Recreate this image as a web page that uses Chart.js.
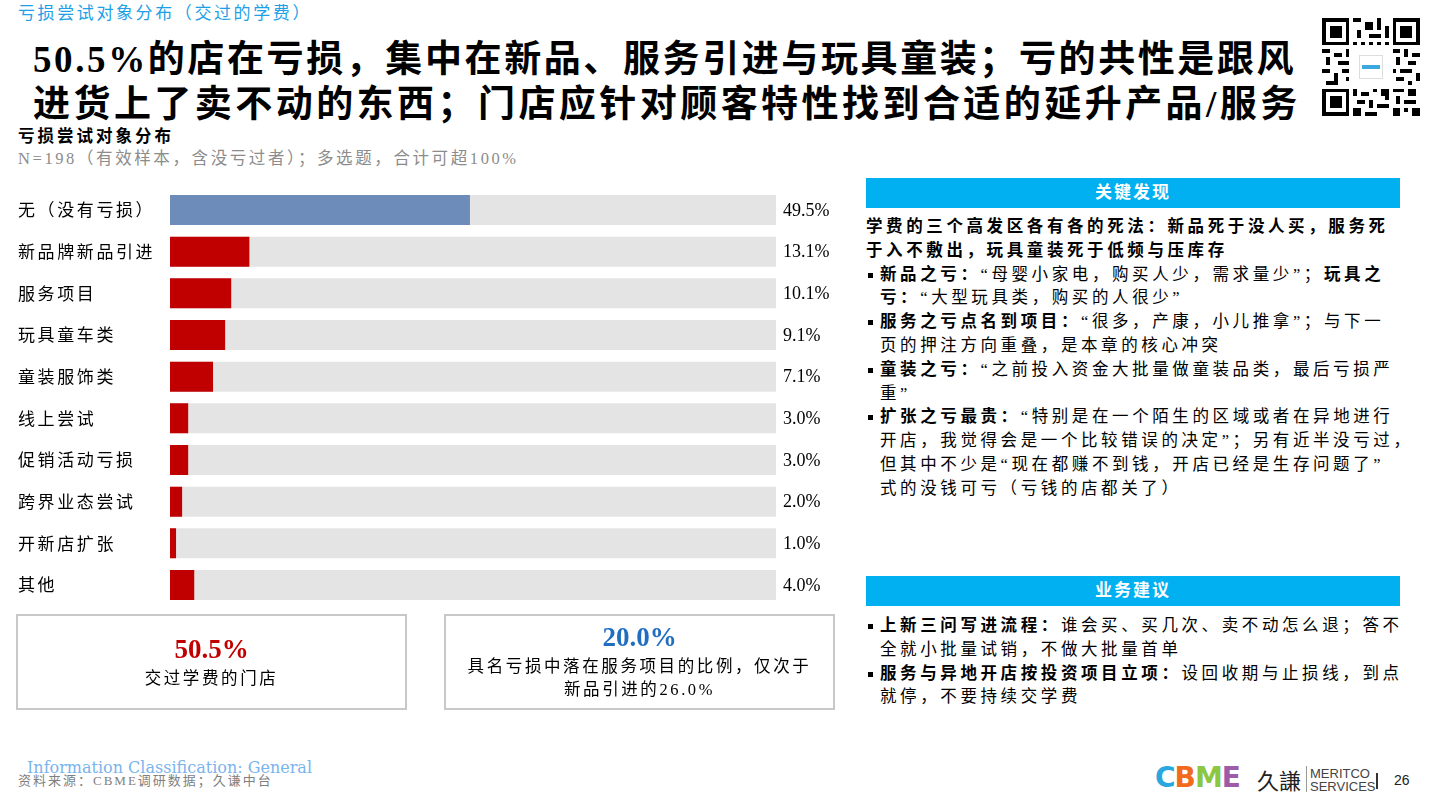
<!DOCTYPE html>
<html>
<head>
<meta charset="utf-8">
<script src="https://cdn.jsdelivr.net/npm/chart.js@4.4.1/dist/chart.umd.min.js"></script>
<style>
  html,body{margin:0;padding:0;background:#fff;}
  body{width:1438px;height:794px;position:relative;overflow:hidden;font-family:"Liberation Serif","Noto Sans CJK SC",serif;color:#000;}
  .abs{position:absolute;white-space:nowrap;}
  #sup{left:18px;top:3px;font-size:17px;color:#1E9FE6;letter-spacing:2.6px;line-height:22px;}
  .title{left:33px;font-size:37px;font-weight:bold;letter-spacing:2.6px;line-height:44px;}
  #ct{left:18px;top:126px;font-size:16.5px;font-weight:bold;letter-spacing:3px;line-height:22px;}
  #cn{left:18px;top:148px;font-size:16.5px;color:#8C8C8C;letter-spacing:2.6px;line-height:22px;}
  #chartWrap{position:absolute;left:0;top:176px;width:860px;height:443px;}
  .hdr{position:absolute;left:866px;width:534px;height:30px;background:#00B0F0;color:#fff;font-weight:bold;font-size:17px;letter-spacing:2px;text-align:center;line-height:30px;}
  .panel{position:absolute;left:866px;width:540px;font-size:16.5px;letter-spacing:3.6px;line-height:23.8px;}
  .panel b{font-weight:bold;}
  .item{position:relative;padding-left:14px;white-space:nowrap;}
  .item:before{content:"";position:absolute;left:2px;top:10px;width:5px;height:5px;background:#000;}
  .box{position:absolute;top:614px;width:387px;height:92px;border:2px solid #C8C8C8;text-align:center;}
  .big{font-size:27px;font-weight:bold;line-height:32px;}
  .sm{font-size:16.5px;letter-spacing:2.6px;line-height:23px;}
  #info{left:27px;top:758px;font-family:"DejaVu Serif",serif;font-size:16px;color:#7AB4EC;line-height:19px;}
  #src{left:18px;top:773px;font-size:13px;color:#7F7F7F;letter-spacing:2px;line-height:16px;}
  #qr{position:absolute;left:1322px;top:18px;width:98px;height:98px;}
</style>
</head>
<body>
<div id="sup" class="abs">亏损尝试对象分布（交过的学费）</div>
<div class="abs title" style="top:38px;">50.5%的店在亏损，集中在新品、服务引进与玩具童装；亏的共性是跟风</div>
<div class="abs title" style="top:83px;letter-spacing:3.45px;">进货上了卖不动的东西；门店应针对顾客特性找到合适的延升产品/服务</div>
<div id="ct" class="abs">亏损尝试对象分布</div>
<div id="cn" class="abs">N=198（有效样本，含没亏过者）；多选题，合计可超100%</div>

<svg id="qr" viewBox="0 0 25 25" shape-rendering="crispEdges">
  <rect x="0" y="0" width="25" height="25" fill="#fff"/>
  <g fill="#000">
    <path d="M0 0h7v7h-7zM1 1v5h5v-5zM2 2h3v3h-3z" fill-rule="evenodd"/>
    <path d="M18 0h7v7h-7zM19 1v5h5v-5zM20 2h3v3h-3z" fill-rule="evenodd"/>
    <path d="M0 18h7v7h-7zM1 19v5h5v-5zM2 20h3v3h-3z" fill-rule="evenodd"/>
    <path d="M8 0h2v1h-2zM11 1h2v2h-2zM14 0h1v3h-1zM9 3h1v2h-1zM12 4h3v1h-3zM16 2h1v3h-1zM8 6h1v1h-1zM10 6h1v1h-1zM12 6h1v1h-1zM14 6h1v1h-1zM16 6h1v1h-1z"/>
    <path d="M0 8h2v1h-2zM3 9h2v1h-2zM6 8h1v2h-1zM1 10h1v2h-1zM4 11h3v1h-3zM0 13h2v1h-2zM3 14h1v2h-1zM5 13h2v1h-2zM1 16h3v1h-3zM6 15h1v1h-1z"/>
    <path d="M18 8h2v1h-2zM21 8h1v2h-1zM23 9h2v1h-2zM19 10h1v2h-1zM22 11h2v1h-2zM18 13h1v1h-1zM20 13h3v1h-3zM24 14h1v2h-1zM19 15h2v1h-2zM22 16h1v1h-1z"/>
    <path d="M8 18h1v2h-1zM10 19h2v1h-2zM13 18h1v1h-1zM15 18h2v2h-2zM9 21h2v1h-2zM12 21h1v2h-1zM14 22h3v1h-3zM8 23h2v2h-2zM11 24h3v1h-3zM18 18h3v1h-3zM22 18h2v2h-2zM19 20h1v2h-1zM21 21h3v1h-3zM18 23h2v2h-2zM21 23h1v1h-1zM23 23h2v2h-2zM16 20h1v1h-1z"/>
  </g>
  <rect x="9.5" y="9.5" width="6" height="6" fill="#fff" stroke="#ddd" stroke-width="0.3"/>
  <rect x="10.3" y="12" width="4.4" height="1" fill="#3BA8E0"/>
</svg>

<div id="chartWrap"><canvas id="c"></canvas></div>

<div class="hdr" style="top:178px;">关键发现</div>
<div class="panel" style="top:215px;">
  <div style="white-space:nowrap;font-weight:bold;">学费的三个高发区各有各的死法：新品死于没人买，服务死<br>于入不敷出，玩具童装死于低频与压库存</div>
  <div class="item"><b>新品之亏：</b>“母婴小家电，购买人少，需求量少”；<b>玩具之</b><br><b>亏：</b>“大型玩具类，购买的人很少”</div>
  <div class="item"><b>服务之亏点名到项目：</b>“很多，产康，小儿推拿”；与下一<br>页的押注方向重叠，是本章的核心冲突</div>
  <div class="item"><b>童装之亏：</b>“之前投入资金大批量做童装品类，最后亏损严<br>重”</div>
  <div class="item"><b>扩张之亏最贵：</b>“特别是在一个陌生的区域或者在异地进行<br>开店，我觉得会是一个比较错误的决定”；另有近半没亏过，<br>但其中不少是“现在都赚不到钱，开店已经是生存问题了”<br>式的没钱可亏（亏钱的店都关了）</div>
</div>

<div class="hdr" style="top:576px;">业务建议</div>
<div class="panel" style="top:614px;">
  <div class="item"><b>上新三问写进流程：</b>谁会买、买几次、卖不动怎么退；答不<br>全就小批量试销，不做大批量首单</div>
  <div class="item"><b>服务与异地开店按投资项目立项：</b>设回收期与止损线，到点<br>就停，不要持续交学费</div>
</div>

<div class="box" style="left:16px;">
  <div class="big" style="color:#C00000;margin-top:17px;">50.5%</div>
  <div class="sm" style="margin-top:2px;">交过学费的门店</div>
</div>
<div class="box" style="left:444px;">
  <div class="big" style="color:#1F6EC2;margin-top:5px;">20.0%</div>
  <div class="sm" style="margin-top:2px;">具名亏损中落在服务项目的比例，仅次于<br>新品引进的26.0%</div>
</div>

<div id="info" class="abs">Information Classification: General</div>
<div id="src" class="abs">资料来源：CBME调研数据；久谦中台</div>

<div class="abs" style="left:1155px;top:762px;font-family:'DejaVu Sans',sans-serif;font-weight:bold;font-size:28px;line-height:32px;letter-spacing:-1px;">
  <span style="color:#29A8E0;">C</span><span style="color:#F26B1D;">B</span><span style="color:#8DC63F;">M</span><span style="color:#9E5BA8;">E</span>
</div>
<div class="abs" style="left:1257px;top:766px;font-family:'Noto Sans CJK SC';font-size:22px;line-height:26px;color:#222;">久謙</div>
<div class="abs" style="left:1306px;top:766px;width:1px;height:26px;background:#999;"></div>
<div class="abs" style="left:1310px;top:767px;font-family:'Liberation Sans';font-size:13px;line-height:13px;color:#444;">MERITCO<br>SERVICES</div>
<div class="abs" style="left:1376px;top:773px;width:2px;height:16px;background:#333;"></div>
<div class="abs" style="left:1394px;top:772px;font-family:'Liberation Sans';font-size:14px;line-height:16px;color:#222;">26</div>

<script>
const categories = ['无（没有亏损）','新品牌新品引进','服务项目','玩具童车类','童装服饰类','线上尝试','促销活动亏损','跨界业态尝试','开新店扩张','其他'];
const values = [49.5, 13.1, 10.1, 9.1, 7.1, 3.0, 3.0, 2.0, 1.0, 4.0];
const valueLabels = ['49.5%','13.1%','10.1%','9.1%','7.1%','3.0%','3.0%','2.0%','1.0%','4.0%'];
const trackValues = [100, 100, 100, 100, 100, 100, 100, 100, 100, 100];
const barColors = ['#6E8CB9','#C00000','#C00000','#C00000','#C00000','#C00000','#C00000','#C00000','#C00000','#C00000'];
const xTicks = [0, 100];

const spacingPlugin = {
  id: 'labelSpacing',
  beforeDraw(chart) { chart.ctx.letterSpacing = '2.6px'; }
};

const valueLabelPlugin = {
  id: 'valueLabels',
  afterDatasetsDraw(chart) {
    const ctx = chart.ctx;
    const meta = chart.getDatasetMeta(1);
    ctx.save();
    ctx.letterSpacing = '0px';
    ctx.font = '18px "Liberation Serif", serif';
    ctx.fillStyle = '#000';
    ctx.textAlign = 'left';
    ctx.textBaseline = 'middle';
    meta.data.forEach((bar, i) => {
      ctx.fillText(valueLabels[i], bar.x + 7, bar.y + 1);
    });
    ctx.restore();
  }
};

new Chart(document.getElementById('c'), {
  type: 'bar',
  data: {
    labels: categories,
    datasets: [
      { data: values, backgroundColor: barColors, grouped: false, order: 0,
        categoryPercentage: 1, barPercentage: 0.72 },
      { data: trackValues, backgroundColor: '#E4E4E4', grouped: false, order: 1,
        categoryPercentage: 1, barPercentage: 0.72 }
    ]
  },
  options: {
    indexAxis: 'y',
    responsive: true,
    maintainAspectRatio: false,
    animation: false,
    layout: { padding: { left: 18, right: 84, top: 4, bottom: 5 } },
    plugins: { legend: { display: false }, tooltip: { enabled: false } },
    scales: {
      x: { display: false, min: xTicks[0], max: xTicks[1] },
      y: {
        grid: { display: false },
        border: { display: false },
        ticks: {
          crossAlign: 'far',
          color: '#000',
          font: { family: '"Noto Sans CJK SC", sans-serif', size: 17 }
        },
        afterFit(scale) { scale.width = 152; }
      }
    }
  },
  plugins: [spacingPlugin, valueLabelPlugin]
});
</script>
</body>
</html>
